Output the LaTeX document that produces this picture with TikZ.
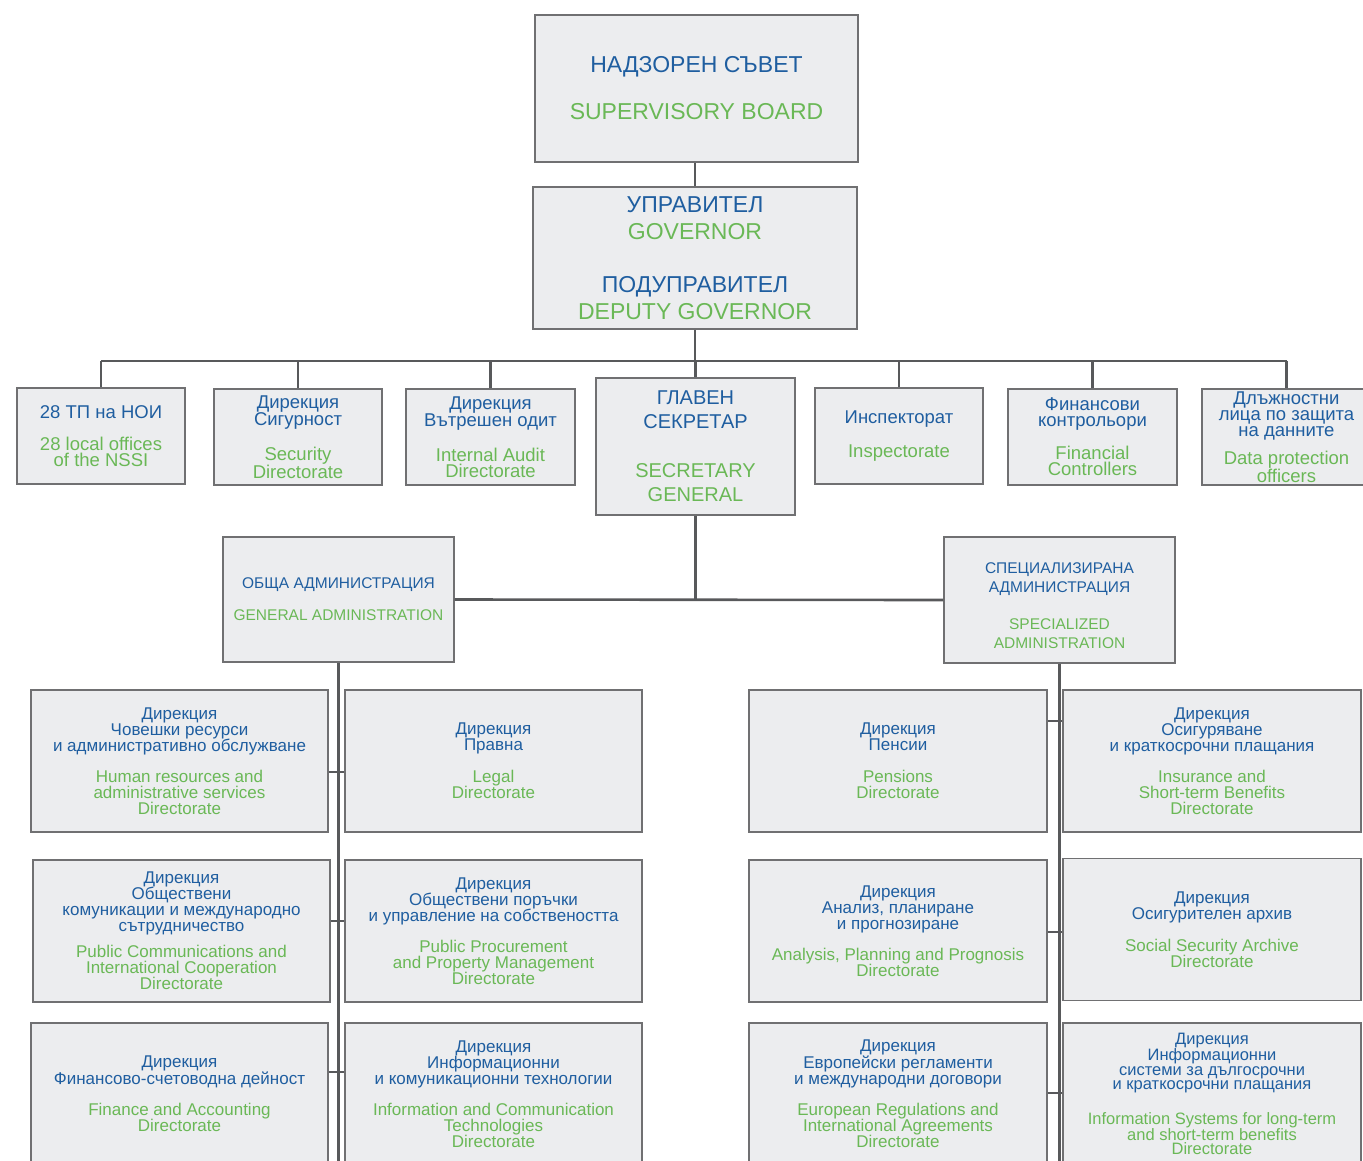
\documentclass[tikz,border=0pt]{standalone}
\usepackage{fontspec}
\setmainfont{Liberation Sans}
\definecolor{nsblue}{RGB}{31,94,160}
\definecolor{nsgreen}{RGB}{106,184,86}
\definecolor{boxfill}{RGB}{236,237,239}
\definecolor{boxgray}{RGB}{112,112,114}
\definecolor{linegray}{RGB}{88,89,91}
\newcommand{\gtx}{\color{nsgreen}}
\begin{document}
\begin{tikzpicture}[x=1pt,y=-1pt,
  bx/.style={draw=boxgray, line width=1.3pt, fill=boxfill, text=nsblue, align=center, inner sep=0pt},
  topf/.style={font=\fontsize{23}{27}\selectfont},
  sgf/.style={font=\fontsize{20}{24}\selectfont},
  rowf/.style={font=\fontsize{18.5}{16}\selectfont},
  admf/.style={font=\fontsize{15.5}{19}\selectfont},
  botf/.style={font=\fontsize{17}{16}\selectfont},
  conn/.style={draw=linegray, line width=2.6pt},
  thinconn/.style={draw=linegray, line width=1.3pt},
  wA/.style={minimum width=168pt, minimum height=96pt},
  wB/.style={minimum width=297pt, minimum height=142pt}]
\fill[white] (0,0) rectangle (1363,1160);
\useasboundingbox (0,0) rectangle (1363,1160);

% coordinates for connector levels
\coordinate (bar) at (0,361);
\coordinate (gaX) at (0,1175);
\coordinate (tA) at (0,772);
\coordinate (tB) at (0,921);
\coordinate (tC) at (0,1072);
\coordinate (tD) at (0,721);
\coordinate (tE) at (0,932);
\coordinate (tF) at (0,1093);

% top
\node[bx, topf, minimum width=323pt, minimum height=147pt] (sb) at (696.5,88.5)
  {НАДЗОРЕН СЪВЕТ\\[20pt]\gtx SUPERVISORY BOARD};
\node[bx, topf, minimum width=324pt, minimum height=142pt] (gov) at (695,258)
  {УПРАВИТЕЛ\\\gtx GOVERNOR\\[26pt]ПОДУПРАВИТЕЛ\\\gtx DEPUTY GOVERNOR};

% second row
\node[bx, rowf, wA] (t28) at (101,436)
  {28 ТП на НОИ\\[16pt]\gtx 28 local offices\\\gtx of the NSSI};
\node[bx, rowf, wA] (sec) at (298,437)
  {Дирекция\\Сигурност\\[16pt]\gtx Security\\\gtx Directorate};
\node[bx, rowf, wA, minimum width=169pt] (aud) at (490.5,437)
  {Дирекция\\Вътрешен одит\\[16pt]\gtx Internal Audit\\\gtx Directorate};
\node[bx, sgf, minimum width=199pt, minimum height=137pt] (sg) at (695.5,446.5)
  {ГЛАВЕН\\СЕКРЕТАР\\[25pt]\gtx SECRETARY\\\gtx GENERAL};
\node[bx, rowf, wA] (insp) at (899,436)
  {Инспекторат\\[16pt]\gtx Inspectorate};
\node[bx, rowf, wA, minimum width=169pt] (fin) at (1092.5,437)
  {Финансови\\контрольори\\[15pt]\gtx Financial\\\gtx Controllers};
\node[bx, rowf, wA, minimum width=169pt] (dpo) at (1286.5,437)
  {Длъжностни\\лица по защита\\на данните\\[10pt]\gtx Data protection\\\gtx officers};

% administrations
\node[bx, admf, minimum width=231pt, minimum height=125pt] (ga) at (338.5,599.5)
  {ОБЩА АДМИНИСТРАЦИЯ\\[13pt]\gtx GENERAL ADMINISTRATION};
\node[bx, admf, minimum width=231pt, minimum height=126pt] (sa) at (1059.5,600)
  {\mbox{}\\[4pt]СПЕЦИАЛИЗИРАНА\\АДМИНИСТРАЦИЯ\\[18pt]\gtx SPECIALIZED\\\gtx ADMINISTRATION};

% general administration directorates
\node[bx, botf, wB] (hr) at (179.5,761)
  {Дирекция\\Човешки ресурси\\и административно обслужване\\[15pt]\gtx Human resources and\\\gtx administrative services\\\gtx Directorate};
\node[bx, botf, wB] (legal) at (493.5,761)
  {Дирекция\\Правна\\[16pt]\gtx Legal\\\gtx Directorate};
\node[bx, botf, wB] (pc) at (181.5,931)
  {Дирекция\\Обществени\\комуникации и международно\\сътрудничество\\[10pt]\gtx Public Communications and\\\gtx International Cooperation\\\gtx Directorate};
\node[bx, botf, wB] (pp) at (493.5,931)
  {Дирекция\\Обществени поръчки\\и управление на собствеността\\[15pt]\gtx Public Procurement\\\gtx and Property Management\\\gtx Directorate};
\node[bx, botf, wB] (fa) at (179.5,1094)
  {Дирекция\\Финансово-счетоводна дейност\\[15pt]\gtx Finance and Accounting\\\gtx Directorate};
\node[bx, botf, wB] (ict) at (493.5,1094)
  {Дирекция\\Информационни\\и комуникационни технологии\\[15pt]\gtx Information and Communication\\\gtx Technologies\\\gtx Directorate};

% specialized administration directorates
\node[bx, botf, wB, minimum width=298pt] (pen) at (898,761)
  {Дирекция\\Пенсии\\[16pt]\gtx Pensions\\\gtx Directorate};
\node[bx, botf, wB, minimum width=298pt] (ins) at (1212,761)
  {Дирекция\\Осигуряване\\и краткосрочни плащания\\[15pt]\gtx Insurance and\\\gtx Short-term Benefits\\\gtx Directorate};
\node[bx, botf, wB, minimum width=298pt] (apf) at (898,931)
  {Дирекция\\Анализ, планиране\\и прогнозиране\\[15pt]\gtx Analysis, Planning and Prognosis\\\gtx Directorate};
\node[bx, botf, wB, minimum width=298pt] (arch) at (1212,929.5)
  {Дирекция\\Осигурителен архив\\[16pt]\gtx Social Security Archive\\\gtx Directorate};
\node[bx, botf, wB, minimum width=298pt] (eu) at (898,1094)
  {Дирекция\\Европейски регламенти\\и международни договори\\[15pt]\gtx European Regulations and\\\gtx International Agreements\\\gtx Directorate};
\node[bx, font=\fontsize{16.5}{14.5}\selectfont, wB, minimum width=298pt] (is) at (1212,1094)
  {Дирекция\\Информационни\\системи за дългосрочни\\и краткосрочни плащания\\[18pt]\gtx Information Systems for long-term\\\gtx and short-term benefits\\\gtx Directorate};

% connectors
\draw[thinconn] (gov.north |- sb.south) -- (gov.north);
\draw[conn] (gov.south) -- (gov.south |- bar);
\draw[conn] (t28.north |- bar) -- (dpo.north |- bar);
\foreach \n in {t28,sec,aud,sg,insp,fin,dpo}
  \draw[conn] (\n.north) -- (\n.north |- bar);
\draw[conn] (sg.south) -- (sg.south |- ga.east);
\draw[conn] (ga.east) -- (sa.west);
\draw[conn] (ga.south) -- (ga.south |- gaX);
\draw[conn] (sa.south) -- (sa.south |- gaX);
\draw[conn] (hr.east |- tA) -- (legal.west |- tA);
\draw[conn] (pc.east |- tB) -- (pp.west |- tB);
\draw[conn] (fa.east |- tC) -- (ict.west |- tC);
\draw[conn] (pen.east |- tD) -- (ins.west |- tD);
\draw[conn] (apf.east |- tE) -- (arch.west |- tE);
\draw[conn] (eu.east |- tF) -- (is.west |- tF);
\end{tikzpicture}
\end{document}
